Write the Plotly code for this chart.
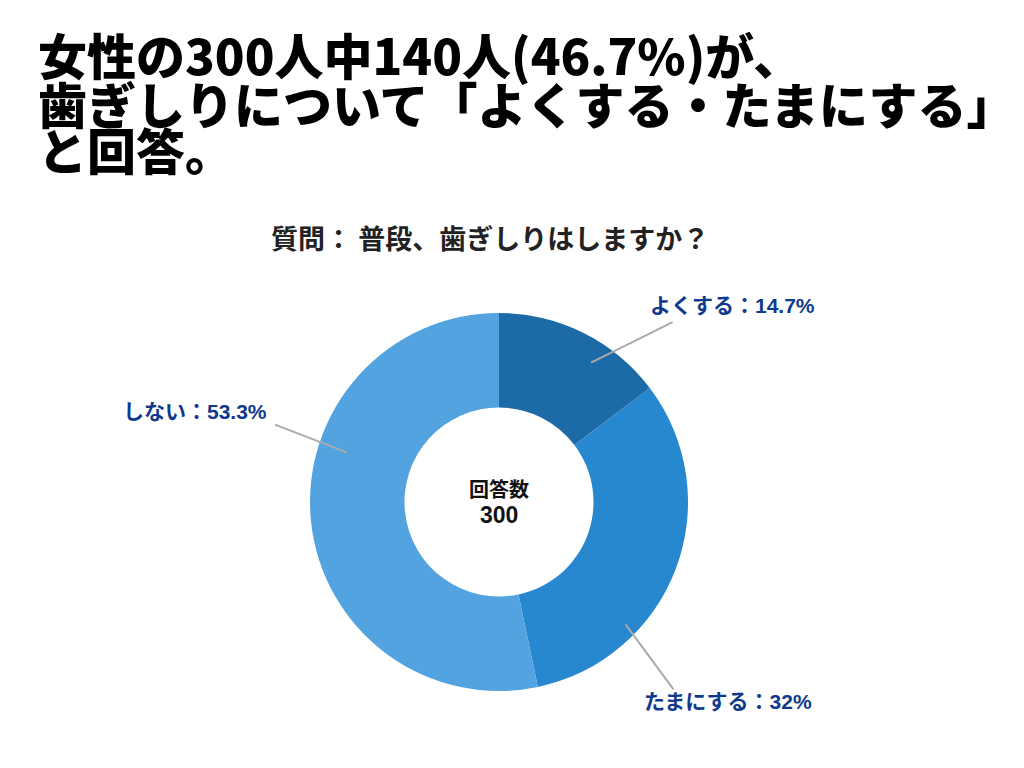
import math
import plotly.graph_objects as go

# ---- data ----
categories = ["よくする", "たまにする", "しない"]
percent_labels = ["14.7%", "32%", "53.3%"]
values = [14.7, 32.0, 53.3]
title_lines = ["女性の300人中140人(46.7%)が、",
               "歯ぎしりについて「よくする・たまにする」",
               "と回答。"]
question = "質問： 普段、歯ぎしりはしますか？"
center_title = "回答数"
center_value = "300"

# ---- style ----
OFF = 8                            # page body margin of the html page
W, H = 1024 - OFF, 768 - OFF
colors = ["#1c6aa6", "#2787cf", "#52a3df"]
label_color = "#0f3a8c"
line_color = "#aaaaaa"
CX, CY, R = 499, 502, 189          # pie centre / radius in screen px
hole = 0.5
lead_off0 = [7, 23.5, 24]          # deg offset of leader start from slice mid
lead_off1 = [17.5, 26.5, 25]       # deg offset of leader end from slice mid
lead_r0 = [167, 176, 160]
lead_r1 = [250, 256, 237]
label_offset = [23.5, 20.5, 22.5]
label_r = [305, 304, 317]


def px(x):
    return (x - OFF) / W


def py(y):
    return 1 - (y - OFF) / H


fig = go.Figure()
fig.add_trace(go.Pie(
    labels=categories, values=values, sort=False, direction="clockwise",
    rotation=0, hole=hole, textinfo="none", hoverinfo="label+percent",
    marker=dict(colors=colors, line=dict(width=0)),
    domain=dict(x=[px(CX - R), px(CX + R)], y=[py(CY + R), py(CY - R)]),
    showlegend=False,
))

total = sum(values)
cum = 0.0
shapes = []
annotations = []
font_lab = "Liberation Sans, Noto Sans CJK JP, sans-serif"
for i, v in enumerate(values):
    mid = (cum + v / 2) / total * 360
    cum += v
    a0 = math.radians(mid + lead_off0[i])
    a1 = math.radians(mid + lead_off1[i])
    x0 = CX + lead_r0[i] * math.sin(a0)
    y0 = CY - lead_r0[i] * math.cos(a0)
    x1 = CX + lead_r1[i] * math.sin(a1)
    y1 = CY - lead_r1[i] * math.cos(a1)
    shapes.append(dict(type="line", xref="paper", yref="paper",
                       x0=px(x0), y0=py(y0), x1=px(x1), y1=py(y1),
                       line=dict(color=line_color, width=2)))
    b = math.radians(mid + label_offset[i])
    lx = CX + label_r[i] * math.sin(b)
    ly = CY - label_r[i] * math.cos(b)
    annotations.append(dict(
        x=px(lx), y=py(ly), xref="paper", yref="paper", showarrow=False,
        text=f"{categories[i]}：{percent_labels[i]}",
        xanchor="center", yanchor="middle",
        font=dict(family=font_lab, size=21, color=label_color, weight="bold")))

# title lines
title_y = [54, 102, 149]
for t, yy in zip(title_lines, title_y):
    annotations.append(dict(
        x=px(36), y=py(yy), xref="paper", yref="paper", showarrow=False,
        text=t, xanchor="left", yanchor="middle",
        font=dict(family="Noto Sans CJK JP, sans-serif", size=49,
                  color="#000000", weight=900)))

annotations.append(dict(
    x=px(490), y=py(237), xref="paper", yref="paper", showarrow=False,
    text=question, xanchor="center", yanchor="middle",
    font=dict(family="Noto Sans CJK JP, sans-serif", size=27,
              color="#222222", weight="bold")))

annotations.append(dict(
    x=px(CX), y=py(488), xref="paper", yref="paper", showarrow=False,
    text=center_title, xanchor="center", yanchor="middle",
    font=dict(family="Noto Sans CJK JP, sans-serif", size=20,
              color="#111111", weight="bold")))
annotations.append(dict(
    x=px(CX), y=py(515), xref="paper", yref="paper", showarrow=False,
    text=center_value, xanchor="center", yanchor="middle",
    font=dict(family="Liberation Sans, sans-serif", size=23,
              color="#111111", weight="bold")))

fig.update_layout(
    width=W, height=H, margin=dict(l=0, r=0, t=0, b=0),
    paper_bgcolor="white", plot_bgcolor="white",
    shapes=shapes, annotations=annotations,
)
fig.write_html("out.html")
